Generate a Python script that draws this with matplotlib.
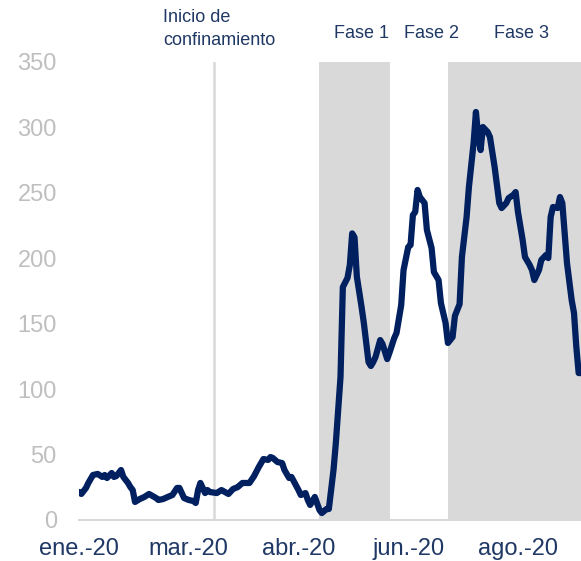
import numpy as np
import pandas as pd
import matplotlib
matplotlib.use('Agg')
import matplotlib.pyplot as plt

plt.rcParams['font.family'] = ['Liberation Sans', 'DejaVu Sans']

# datos: dias desde el inicio de la serie y valor
inicio = pd.Timestamp('2020-01-26')
dias = [0, 1, 3, 4, 6, 8, 10, 11, 12, 14, 15, 16, 18, 19, 21, 22, 23, 24, 26, 28,
        30, 33, 34, 36, 38, 40, 42, 43, 45, 47, 49, 50, 51, 52, 54, 55, 56, 59, 61, 64,
        66, 68, 70, 73, 75, 77, 79, 81, 82, 83, 85, 87, 88, 90, 91, 94, 95, 97, 98, 99,
        101, 103, 104, 106, 107, 109, 110, 112, 113, 115, 116, 117, 118, 119, 121, 122, 124, 125, 126, 127,
        129, 130, 132, 133, 135, 136, 138, 139, 141, 142, 143, 144, 145, 146, 148, 149, 151, 152, 154, 155,
        157, 158, 160, 161, 163, 164, 166, 167, 169, 170, 171, 172, 173, 175, 176, 178, 180, 181, 183, 184,
        186, 187, 188, 190, 191, 193, 194, 195, 197, 198, 200, 201, 202, 203, 205, 206, 207, 209, 211, 212,
        213, 214, 215]
valores = [21.4, 19.9, 24.5, 28.3, 34.4, 35.2, 32.9, 34.4, 32.1, 35.9, 32.9, 33.6, 38.2, 32.9, 28.3, 25.2, 22.9, 13.8, 16.0, 17.6,
           19.9, 16.8, 15.3, 16.0, 17.6, 19.1, 24.5, 24.5, 16.8, 15.3, 14.5, 13.0, 22.9, 28.3, 20.6, 22.9, 21.4, 20.6, 22.9, 19.9,
           23.7, 25.2, 28.3, 28.3, 33.6, 40.5, 46.6, 45.9, 48.1, 47.4, 44.3, 43.5, 38.2, 32.1, 32.9, 22.9, 19.1, 20.6, 15.3, 11.5,
           17.6, 7.6, 5.3, 8.4, 8.4, 38.2, 58.8, 109.3, 178.0, 185.0, 195.0, 219.0, 216.0, 186.0, 163.0, 150.5, 120.7, 117.7, 120.7, 124.6,
           137.5, 134.5, 123.0, 128.0, 139.0, 143.0, 164.3, 191.0, 208.6, 210.1, 233.0, 235.4, 252.2, 246.8, 242.2, 221.6, 207.9, 189.5, 183.4, 165.8,
           150.5, 135.3, 139.8, 156.0, 165.0, 201.0, 231.5, 254.5, 288.0, 311.8, 292.7, 282.7, 300.3, 296.5, 292.7, 269.8, 242.2, 238.4, 242.2, 246.0,
           248.4, 250.6, 235.4, 214.0, 201.0, 194.9, 191.0, 183.4, 191.0, 198.7, 202.5, 200.2, 231.5, 239.2, 238.4, 246.8, 242.2, 196.4, 168.1, 158.2,
           132.2, 112.3, 112.3]

meses = ['ene.', 'feb.', 'mar.', 'abr.', 'may.', 'jun.', 'jul.', 'ago.', 'sep.', 'oct.', 'nov.', 'dic.']
confinamiento = pd.Timestamp('2020-03-24')
fase1 = pd.Timestamp('2020-05-08')
fase2 = pd.Timestamp('2020-06-07')
fase3 = pd.Timestamp('2020-07-02')

fechas = inicio + pd.to_timedelta(dias, unit='D')
fin = inicio + pd.Timedelta(days=215)

azul = '#002060'
texto = '#1f3864'
gris = '#d9d9d9'

fig = plt.figure(figsize=(5.81, 5.61), dpi=100)
ax = fig.add_axes([79/581, 1-520/561, 1-79/581, (520-62)/561])

ax.axvspan(fase1, fase2, color=gris, lw=0, zorder=0)
ax.axvspan(fase3, fin + pd.Timedelta(days=5), color=gris, lw=0, zorder=0)
ax.axvline(confinamiento, color=gris, lw=1.8, zorder=1)

ax.plot(fechas, valores, color=azul, lw=4.5, solid_joinstyle='round', solid_capstyle='round', zorder=3)

ax.set_xlim(inicio, fin)
ax.set_ylim(0, 350)
ax.set_yticks(np.arange(0, 351, 50))

ticks = pd.date_range(inicio, fin, freq='47D')
ax.set_xticks(ticks)
ax.set_xticklabels([meses[t.month-1] + '-' + t.strftime('%y') for t in ticks])

ax.tick_params(axis='y', length=0, pad=16, labelsize=17, labelcolor='#bfbfbf')
ax.tick_params(axis='x', length=0, pad=13, labelsize=17, labelcolor=texto)

for s in ['top', 'right', 'left']:
    ax.spines[s].set_visible(False)
ax.spines['bottom'].set_color(gris)
ax.spines['bottom'].set_linewidth(1.5)

fig.text(163/581, 1-29/561, 'Inicio de\nconfinamiento', fontsize=13, color=texto,
         ha='left', va='center', linespacing=1.45)
fig.text(362/581, 1-33/561, 'Fase 1', fontsize=13, color=texto, ha='center', va='center')
fig.text(431/581, 1-33/561, 'Fase 2', fontsize=13, color=texto, ha='center', va='center')
fig.text(521/581, 1-33/561, 'Fase 3', fontsize=13, color=texto, ha='center', va='center')

fig.savefig('out.png', dpi=100)
